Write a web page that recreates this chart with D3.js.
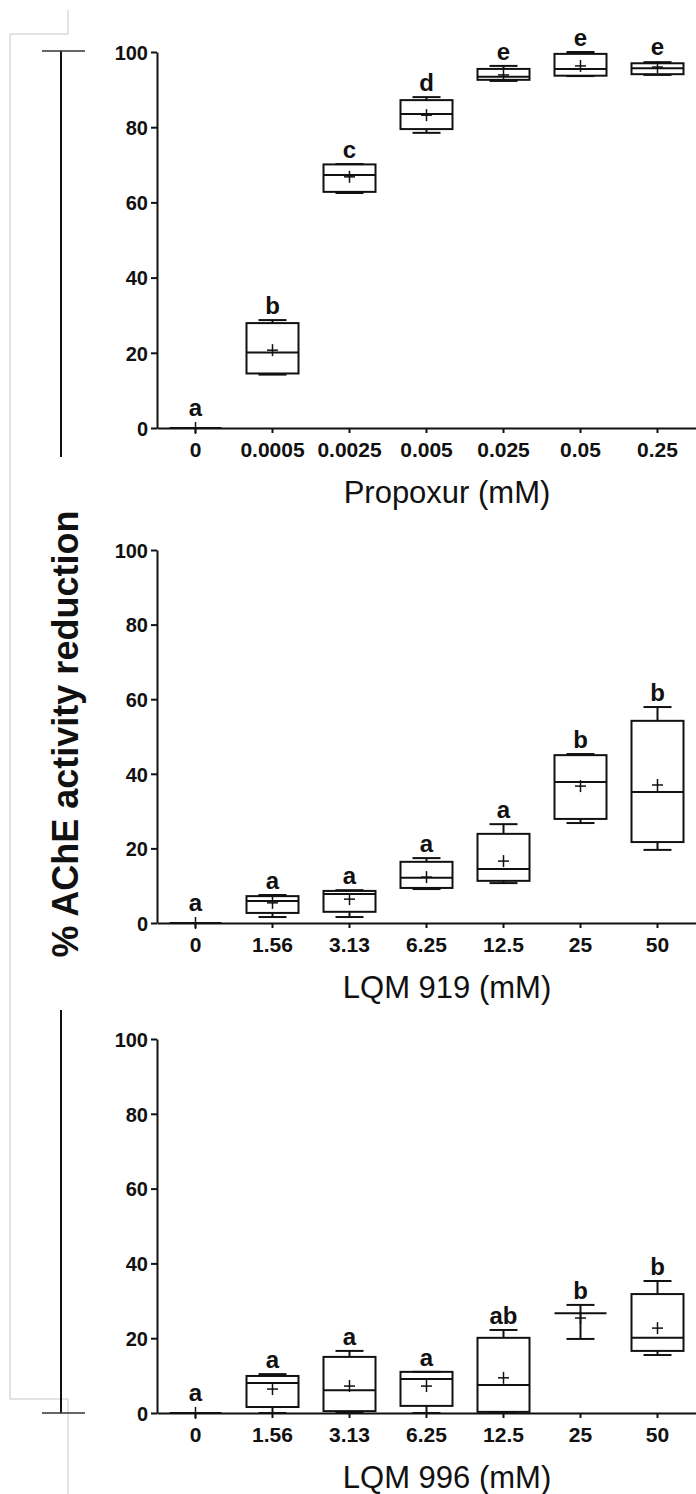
<!DOCTYPE html>
<html>
<head>
<meta charset="utf-8">
<script src="https://cdn.jsdelivr.net/npm/d3@7"></script>
<style>
  body { margin: 0; background: #fff; }
  svg { display: block; }
  text { font-family: "Liberation Sans", Arial, sans-serif; fill: #111; }
</style>
</head>
<body>
<div id="chart"></div>
<script>
// box plot values (% AChE activity reduction)
var propoxurDoses   = ["0", "0.0005", "0.0025", "0.005", "0.025", "0.05", "0.25"];
var propoxurMin     = [0, 14.2, 62.5, 78.5, 92.3, 93.6, 93.9];
var propoxurQ1      = [0, 14.5, 62.8, 79.5, 92.6, 93.7, 94.1];
var propoxurMedian  = [0, 20.1, 67.3, 83.5, 93.4, 95.5, 95.7];
var propoxurQ3      = [0, 27.9, 70.1, 87.2, 95.5, 99.5, 97.0];
var propoxurMax     = [0, 28.7, 70.2, 88.0, 96.3, 100, 97.3];
var propoxurMean    = [0, 20.7, 66.8, 83.2, 93.9, 96.3, 96.0];
var propoxurLetters = ["a", "b", "c", "d", "e", "e", "e"];

var lqm919Doses   = ["0", "1.56", "3.13", "6.25", "12.5", "25", "50"];
var lqm919Min     = [0, 1.6, 1.6, 9.1, 10.7, 26.8, 19.6];
var lqm919Q1      = [0, 2.7, 3.0, 9.4, 11.3, 27.9, 21.7];
var lqm919Median  = [0, 5.9, 7.8, 12.1, 14.5, 37.8, 35.1];
var lqm919Q3      = [0, 7.2, 8.6, 16.4, 23.9, 45.0, 54.2];
var lqm919Max     = [0, 7.5, 8.8, 17.4, 26.5, 45.3, 57.9];
var lqm919Mean    = [0, 5.4, 6.4, 12.3, 16.6, 36.7, 37.0];
var lqm919Letters = ["a", "a", "a", "a", "a", "b", "b"];

var lqm996Doses   = ["0", "1.56", "3.13", "6.25", "12.5", "25", "50"];
var lqm996Min     = [0, 0, 0, 0, 0, 19.8, 15.5];
var lqm996Q1      = [0, 1.6, 0.5, 1.9, 0.3, 26.7, 16.6];
var lqm996Median  = [0, 8.0, 6.1, 9.1, 7.5, 26.7, 20.1];
var lqm996Q3      = [0, 9.9, 15.0, 11.0, 20.1, 26.7, 31.8];
var lqm996Max     = [0, 10.4, 16.6, 11.0, 22.2, 28.9, 35.3];
var lqm996Mean    = [0, 6.4, 7.2, 7.2, 9.4, 25.4, 22.7];
var lqm996Letters = ["a", "a", "a", "a", "ab", "b", "b"];

var yTicks = [0, 20, 40, 60, 80, 100];
var yTitle = "% AChE activity reduction";

var W = 696, H = 1494;
var svg = d3.select("#chart").append("svg")
  .attr("width", W)
  .attr("height", H);

// scan leftovers: faint page frame and the black brackets on the left
svg.append("path")
  .attr("d", "M68,10V34H10V1399H68V1494")
  .attr("fill", "none")
  .attr("stroke", "#c8c8c8")
  .attr("stroke-width", 1);

function bracket(x, y1, y2, capY) {
  svg.append("line").attr("x1", x).attr("x2", x).attr("y1", y1).attr("y2", y2)
    .attr("stroke", "#111").attr("stroke-width", 2);
  svg.append("line").attr("x1", 42).attr("x2", 85).attr("y1", capY).attr("y2", capY)
    .attr("stroke", "#333").attr("stroke-width", 1.5);
}
bracket(61, 51, 457, 51);
bracket(61, 1010, 1413, 1413);

var panels = [
  { doses: propoxurDoses, min: propoxurMin, q1: propoxurQ1, med: propoxurMedian, q3: propoxurQ3,
    max: propoxurMax, mean: propoxurMean, letters: propoxurLetters, title: "Propoxur (mM)", y0: 428, y100: 52 },
  { doses: lqm919Doses, min: lqm919Min, q1: lqm919Q1, med: lqm919Median, q3: lqm919Q3,
    max: lqm919Max, mean: lqm919Mean, letters: lqm919Letters, title: "LQM 919 (mM)", y0: 923, y100: 550 },
  { doses: lqm996Doses, min: lqm996Min, q1: lqm996Q1, med: lqm996Median, q3: lqm996Q3,
    max: lqm996Max, mean: lqm996Mean, letters: lqm996Letters, title: "LQM 996 (mM)", y0: 1413, y100: 1039 }
];

var boxW = 52, capW = 28, plusW = 11, plusH = 12;

panels.forEach(function (p) {
  var g = svg.append("g");

  var x = d3.scaleBand().domain(p.doses).range([157, 696]).padding(0);
  var y = d3.scaleLinear().domain([0, 100]).range([p.y0, p.y100]);

  var rows = p.doses.map(function (d, i) {
    return { dose: d, min: p.min[i], q1: p.q1[i], med: p.med[i], q3: p.q3[i],
             max: p.max[i], mean: p.mean[i], letter: p.letters[i] };
  });

  // axes
  var yAxis = g.append("g")
    .attr("transform", "translate(157,0)")
    .call(d3.axisLeft(y).tickValues(yTicks).tickSize(6).tickSizeOuter(0).tickPadding(3));
  yAxis.selectAll("text").attr("font-size", 20).attr("font-weight", "bold").attr("dy", "0.36em");

  var xAxis = g.append("g")
    .attr("transform", "translate(0," + p.y0 + ")")
    .call(d3.axisBottom(x).tickSize(5).tickSizeOuter(0).tickPadding(9));
  xAxis.selectAll("text").attr("font-size", 21).attr("font-weight", "bold");

  g.selectAll(".domain, .tick line").attr("stroke", "#111").attr("stroke-width", 2);

  // boxes
  var box = g.selectAll(".box").data(rows).enter().append("g")
    .attr("class", "box")
    .attr("transform", function (d) { return "translate(" + (x(d.dose) + x.bandwidth() / 2) + ",0)"; });

  box.append("line")
    .attr("y1", function (d) { return y(d.max); })
    .attr("y2", function (d) { return y(d.q3); });
  box.append("line")
    .attr("y1", function (d) { return y(d.q1); })
    .attr("y2", function (d) { return y(d.min); });
  box.append("line")
    .attr("x1", -capW / 2).attr("x2", capW / 2)
    .attr("y1", function (d) { return y(d.max); })
    .attr("y2", function (d) { return y(d.max); });
  box.append("line")
    .attr("x1", -capW / 2).attr("x2", capW / 2)
    .attr("y1", function (d) { return y(d.min); })
    .attr("y2", function (d) { return y(d.min); });
  box.append("rect")
    .attr("x", -boxW / 2)
    .attr("width", boxW)
    .attr("y", function (d) { return y(d.q3); })
    .attr("height", function (d) { return y(d.q1) - y(d.q3); })
    .attr("fill", "none");
  box.append("line")
    .attr("x1", -boxW / 2).attr("x2", boxW / 2)
    .attr("y1", function (d) { return y(d.med); })
    .attr("y2", function (d) { return y(d.med); });
  // mean marker "+"
  box.append("line")
    .attr("class", "plus")
    .attr("x1", -plusW / 2).attr("x2", plusW / 2)
    .attr("y1", function (d) { return y(d.mean); })
    .attr("y2", function (d) { return y(d.mean); });
  box.append("line")
    .attr("class", "plus")
    .attr("y1", function (d) { return y(d.mean) - plusH / 2; })
    .attr("y2", function (d) { return y(d.mean) + plusH / 2; });

  box.selectAll("line, rect").attr("stroke", "#111").attr("stroke-width", 2);
  box.selectAll(".plus").attr("stroke-width", 1.5);

  // significance letters
  box.append("text")
    .attr("text-anchor", "middle")
    .attr("font-size", 24)
    .attr("font-weight", "bold")
    .attr("y", function (d) { return Math.min(y(d.max), y(d.mean) - plusH / 2) - 6; })
    .text(function (d) { return d.letter; });

  // x title
  g.append("text")
    .attr("x", 447)
    .attr("y", p.y0 + 75)
    .attr("text-anchor", "middle")
    .attr("font-size", 31)
    .text(p.title);
});

svg.append("text")
  .attr("transform", "translate(78,734) rotate(-90)")
  .attr("text-anchor", "middle")
  .attr("font-size", 36)
  .attr("font-weight", "bold")
  .text(yTitle);
</script>
</body>
</html>
